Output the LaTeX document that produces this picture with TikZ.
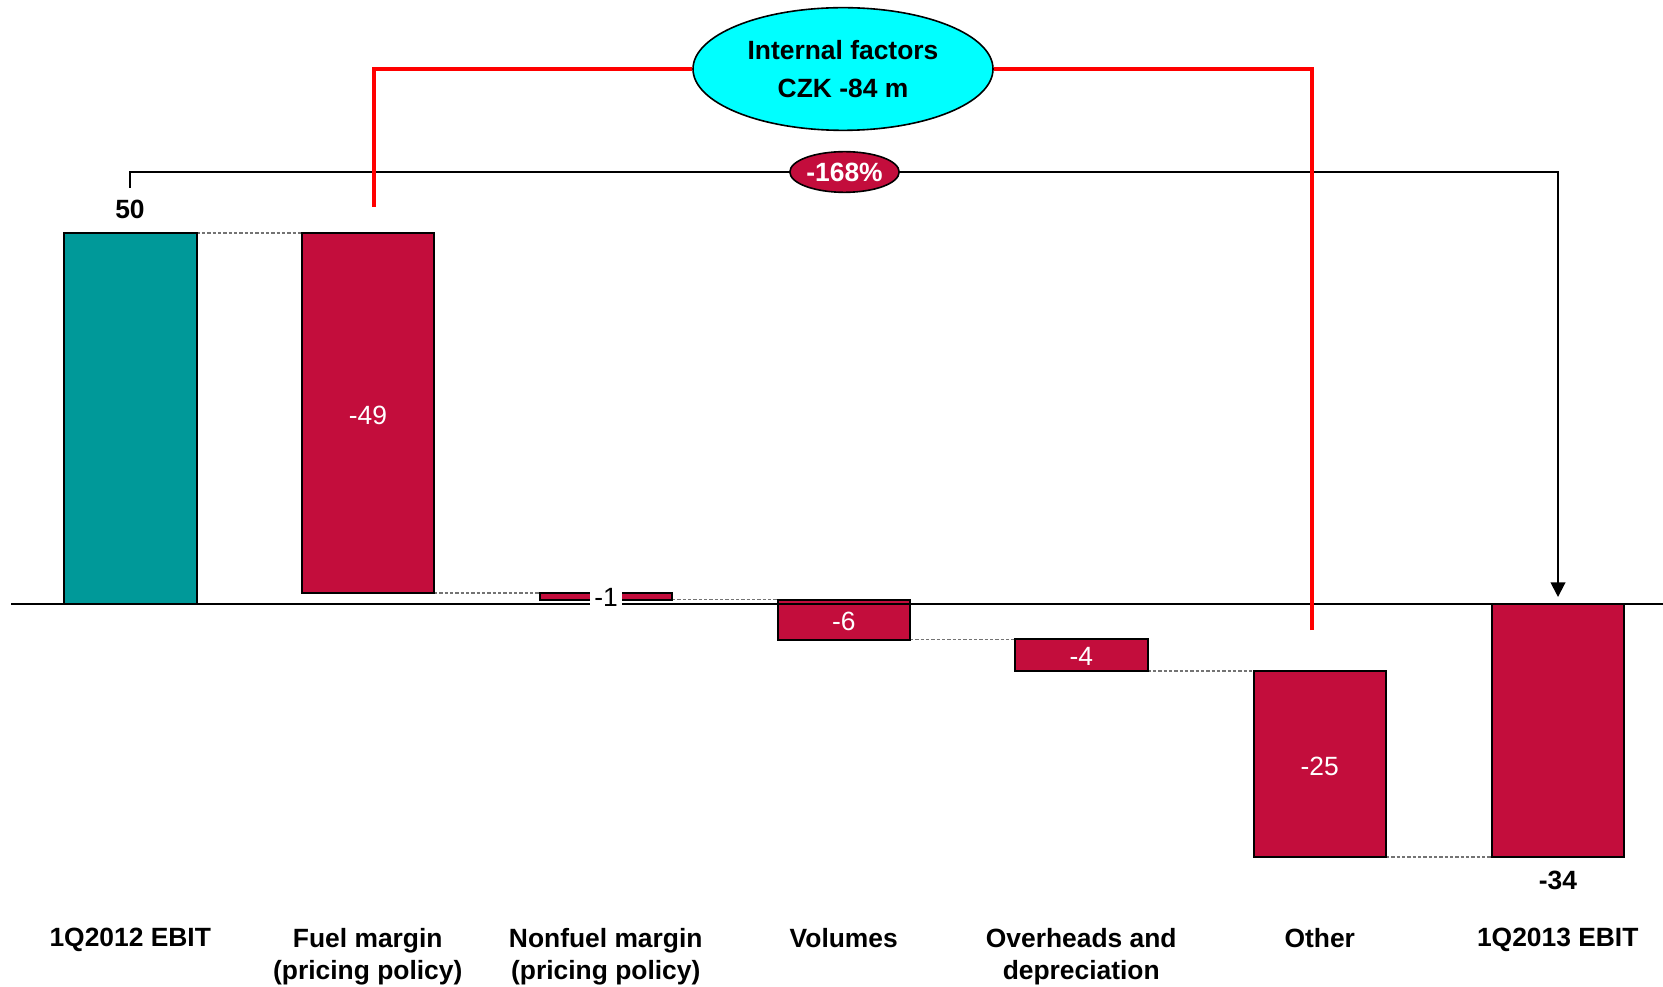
\documentclass[tikz,border=0pt]{standalone}
\usepackage{fontspec}
\setmainfont{Liberation Sans}
\usetikzlibrary{shapes.geometric,arrows.meta}
\definecolor{lossred}{RGB}{195,13,60}
\definecolor{ebitteal}{RGB}{0,153,153}
\definecolor{factcyan}{RGB}{0,255,255}
\tikzset{
  bar/.style={draw=black,line width=1.5pt},
  link/.style={draw=black!55,line width=0.9pt,dash pattern=on 2.5pt off 1.5pt},
  vallabel/.style={text=white,font=\fontsize{19.8}{24}\selectfont,inner sep=0pt},
  sumlabel/.style={font=\bfseries\fontsize{19.8}{24}\selectfont,inner sep=0pt},
  catlabel/.style={font=\bfseries\fontsize{19.8}{23.8}\selectfont,align=center,anchor=north,inner sep=0pt},
  redline/.style={red,line width=3pt},
}
\begin{document}
\begin{tikzpicture}[x=0.75pt,y=-0.75pt,>={Triangle[width=11pt,length=11pt]}]
	\useasboundingbox (0,0) rectangle (1663,987);
	\foreach \xa/\xb/\y in {196.5/301.5/233,434/539.5/593,672/777.5/599.5,910/1015/639.5,1147.5/1253.5/671,1386/1491.5/857}
	\draw[link] (\xa,\y) -- (\xb,\y);
	\draw[bar,fill=ebitteal] (64,233) rectangle (196.5,604);
	\foreach \x/\ya/\yb in {301.5/233/593,539.5/593/599.5,777.5/599.5/639.5,1015/639/671,1253.5/671/857,1491.5/604/857}
	\draw[bar,fill=lossred] (\x,\ya) rectangle (\x+132.5,\yb);
	\draw[line width=1.6pt] (11,604) -- (1663,604);
	\node[vallabel] (v49) at (368,415) {-49};
	\node[font=\fontsize{19.8}{24}\selectfont,fill=white,inner xsep=3.5pt,inner ysep=2pt] (v1) at (606,597.5) {-1};
	\node[vallabel] (v6) at (843.75,621.5) {-6};
	\node[vallabel] (v4) at (1081.25,656.5) {-4};
	\node[vallabel] (v25) at (1319.75,766) {-25};
	\node[sumlabel] (v50) at (130,209) {50};
	\node[sumlabel] (v34) at (1558,880) {-34};
	\node[catlabel] (c1) at (130.25,928) {1Q2012 EBIT};
	\node[catlabel] (c2) at (367.75,928) {Fuel margin\\(pricing policy)};
	\node[catlabel] (c3) at (605.75,928) {Nonfuel margin\\(pricing policy)};
	\node[catlabel] (c4) at (843.75,928) {Volumes};
	\node[catlabel] (c5) at (1081.25,928) {Overheads and\\depreciation};
	\node[catlabel] (c6) at (1319.75,928) {Other};
	\node[catlabel] (c7) at (1557.75,928) {1Q2013 EBIT};
	\node[draw,ellipse,fill=lossred,text=white,line width=1.2pt,minimum width=82pt,minimum height=30.5pt,inner sep=0pt,font=\bfseries\fontsize{19.8}{24}\selectfont] (change) at (844.5,172) {-168\%};
	\coordinate (startebit) at (130,188);
	\coordinate (endebit) at (1558,597);
	\draw[line width=1.5pt] (startebit) |- (change.west);
	\draw[->,line width=1.5pt] (change.east) -| (endebit);
	\node[draw,ellipse,fill=factcyan,line width=1.2pt,minimum width=225pt,minimum height=92pt,inner sep=0pt,align=center,font=\bfseries\fontsize{19.8}{28.7}\selectfont] (internal) at (843,69) {Internal factors\\CZK -84 m};
	\coordinate (fuelend) at (373.5,207);
	\coordinate (otherend) at (1312,630);
	\draw[redline] (fuelend) |- (internal.west);
	\draw[redline] (otherend) |- (internal.east);
\end{tikzpicture}
\end{document}
